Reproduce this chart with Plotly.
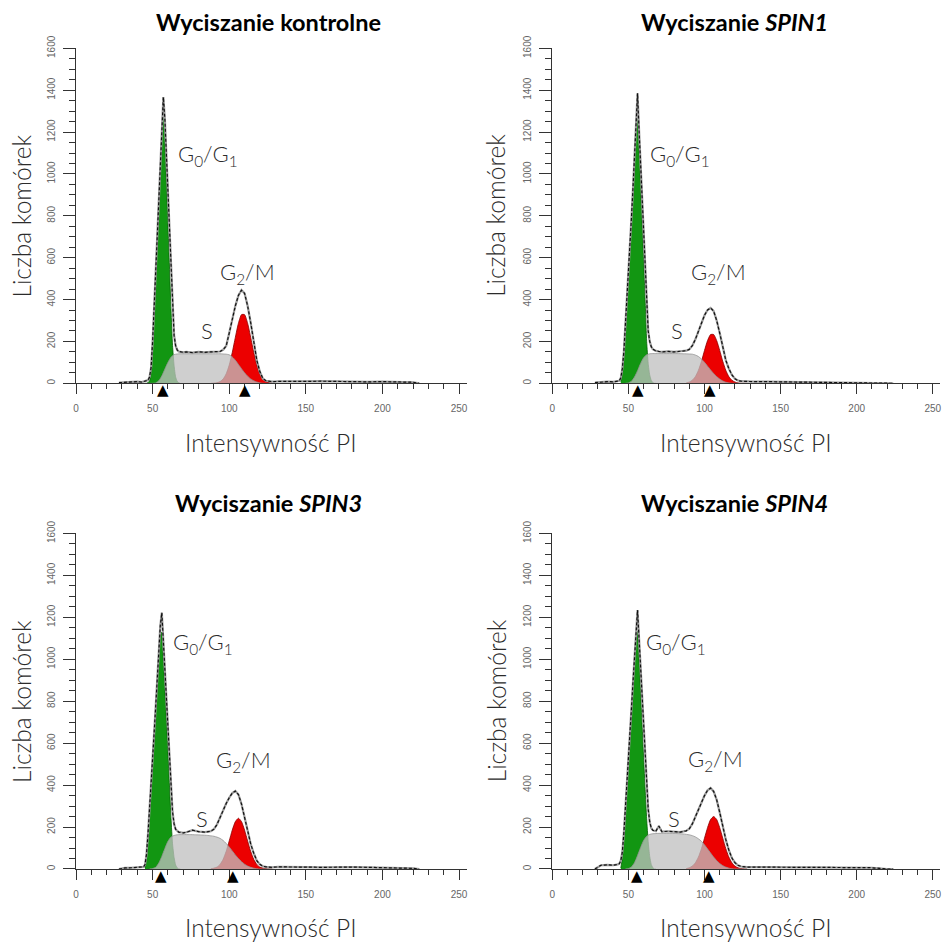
import plotly.graph_objects as go

# ---------------------------------------------------------------------------
# DNA-content histograms (propidium iodide), four siRNA conditions.
# Each panel: measured histogram + fitted G0/G1, S and G2/M components.
# ---------------------------------------------------------------------------

TITLES = [
    "<b>Wyciszanie kontrolne</b>",
    "<b>Wyciszanie <i>SPIN1</i></b>",
    "<b>Wyciszanie <i>SPIN3</i></b>",
    "<b>Wyciszanie <i>SPIN4</i></b>",
]

X_TICKS = [0, 50, 100, 150, 200, 250]
Y_TICKS = [0, 200, 400, 600, 800, 1000, 1200, 1400, 1600]

# channel positions of the fitted components
G1_X = list(range(45, 69))
S_X = [48, 50, 52, 54, 56, 58, 60, 62, 64, 66, 68, 70, 74, 78, 82, 86,
       90, 92, 94, 96, 98, 100, 102, 104, 106, 108, 110, 112, 114, 116, 118,
       120, 122, 124, 126, 128]
G2_X = list(range(88, 129, 2))

# channel positions of the measured histogram
HIST_X = ([28, 32, 36, 40, 43] + list(range(44, 69)) + [70, 72, 76, 80, 84, 88]
          + list(range(90, 129, 2))
          + [132, 140, 150, 160, 170, 180, 190, 200, 210, 220, 224])

# --- control ---------------------------------------------------------------
CTRL_G1 = [0, 0, 3, 12, 60, 190, 350, 520, 690, 860, 1020, 1180, 1290, 1160,
           960, 760, 560, 350, 180, 85, 30, 10, 3, 0]
CTRL_S = [0, 0, 2, 12, 35, 68, 100, 125, 137, 140, 141, 141, 141, 141, 141,
          141, 141, 141, 141, 140, 139, 136, 126, 110, 90, 70, 50, 34, 21, 12,
          6, 2, 0, 0, 0, 0]
CTRL_G2 = [0, 1, 3, 8, 20, 45, 87, 148, 220, 287, 328, 328, 287, 220, 148, 87,
           45, 20, 8, 3, 1]
CTRL_HIST = [3, 5, 4, 8, 6,
             8, 10, 12, 15, 30, 75, 200, 360, 530, 700, 880, 1050, 1230, 1367,
             1260, 1090, 900, 700, 500, 330, 230, 180, 160, 152, 150,
             148, 150, 147, 150, 148, 150,
             150, 151, 152, 160, 178, 240, 310, 370, 420, 445, 430, 370, 290,
             200, 110, 55, 22, 12, 9, 8,
             9, 8, 9, 10, 8, 9, 7, 8, 6, 5, 0]
CTRL_PEAKS = [57.0, 110.3]

# --- SPIN1 -------------------------------------------------------------------
SPIN1_G1 = [8, 50, 130, 250, 380, 510, 640, 770, 900, 1050, 1220, 1290, 1130,
            950, 770, 590, 400, 200, 95, 40, 14, 4, 0, 0]
SPIN1_S = [0, 2, 10, 30, 60, 95, 122, 136, 141, 142, 142, 142, 142, 142, 142,
           141, 140, 139, 135, 128, 116, 100, 82, 64, 47, 32, 20, 11, 5, 2, 0,
           0, 0, 0, 0, 0]
SPIN1_G2 = [2, 6, 15, 32, 62, 105, 157, 204, 233, 233, 204, 157, 105, 62, 32,
            15, 6, 2, 0, 0, 0]
SPIN1_HIST = [3, 6, 8, 7, 10,
              12, 25, 70, 150, 270, 400, 530, 660, 790, 930, 1080, 1300, 1385,
              1210, 1040, 860, 700, 530, 350, 250, 200, 175, 163, 158, 155,
              152, 150, 152, 150, 153, 156,
              162, 180, 210, 250, 290, 325, 350, 360, 345, 300, 240, 170, 110,
              70, 40, 22, 13, 10, 9, 8,
              8, 8, 7, 8, 6, 6, 5, 5, 3, 0, 0]
SPIN1_PEAKS = [56.3, 103.7]

# --- SPIN3 -------------------------------------------------------------------
SPIN3_G1 = [5, 60, 160, 270, 390, 520, 640, 760, 880, 1000, 1110, 1130, 1000,
            860, 710, 560, 400, 240, 120, 55, 20, 6, 0, 0]
SPIN3_S = [0, 2, 8, 28, 60, 98, 132, 152, 160, 163, 164, 164, 164, 163, 162,
           160, 156, 152, 146, 136, 122, 105, 86, 67, 50, 35, 23, 14, 8, 4, 1,
           0, 0, 0, 0, 0]
SPIN3_G2 = [1, 4, 9, 22, 46, 84, 134, 186, 226, 242, 226, 186, 134, 84, 46, 22,
            9, 4, 1, 0, 0]
SPIN3_HIST = [0, 5, 6, 8, 8,
              10, 20, 70, 170, 280, 400, 530, 650, 775, 900, 1030, 1160, 1222,
              1090, 960, 810, 690, 540, 385, 272, 215, 190, 182, 176, 175,
              172, 175, 185, 178, 176, 180,
              190, 212, 245, 285, 312, 340, 362, 372, 355, 310, 250, 180, 120,
              75, 40, 22, 13, 10, 9, 8,
              10, 8, 9, 8, 10, 9, 8, 7, 6, 3, 0]
SPIN3_PEAKS = [55.6, 102.2]

# --- SPIN4 -------------------------------------------------------------------
SPIN4_G1 = [5, 50, 150, 260, 380, 500, 620, 740, 860, 990, 1110, 1135, 1000,
            850, 690, 530, 380, 240, 130, 60, 22, 7, 0, 0]
SPIN4_S = [0, 2, 10, 30, 64, 102, 136, 156, 165, 168, 169, 170, 170, 170, 169,
           167, 163, 159, 153, 144, 132, 115, 96, 76, 57, 40, 26, 16, 9, 4, 1,
           0, 0, 0, 0, 0]
SPIN4_G2 = [2, 6, 14, 30, 57, 97, 147, 197, 236, 250, 236, 197, 147, 97, 57,
            30, 14, 6, 2, 0, 0]
SPIN4_HIST = [0, 18, 20, 18, 22,
              25, 40, 80, 170, 280, 400, 520, 640, 765, 890, 1020, 1165, 1235,
              1100, 960, 810, 670, 520, 390, 285, 225, 195, 185, 182, 180,
              205, 178, 180, 178, 176, 182,
              192, 215, 250, 288, 322, 350, 375, 386, 370, 330, 270, 200, 140,
              90, 52, 30, 18, 12, 10, 9,
              9, 8, 9, 8, 8, 7, 8, 7, 6, 0, 0]
SPIN4_PEAKS = [55.4, 102.9]

PANELS = [
    (CTRL_G1, CTRL_S, CTRL_G2, CTRL_HIST, CTRL_PEAKS),
    (SPIN1_G1, SPIN1_S, SPIN1_G2, SPIN1_HIST, SPIN1_PEAKS),
    (SPIN3_G1, SPIN3_S, SPIN3_G2, SPIN3_HIST, SPIN3_PEAKS),
    (SPIN4_G1, SPIN4_S, SPIN4_G2, SPIN4_HIST, SPIN4_PEAKS),
]

# ---------------------------------------------------------------------------
# layout geometry (paper fractions) and label placement
# ---------------------------------------------------------------------------
X_DOMAINS = [[0.0802, 0.4923], [0.5826, 0.9920]]
Y_DOMAINS = [[0.5931, 0.9487], [0.0775, 0.4337]]
TITLE_X = [268 / 948, 734 / 948]
TITLE_Y = [1 - 22 / 942, 1 - 503 / 942]
XTITLE_Y = [1 - 442 / 942, 1 - 927 / 942]
YTITLE_X = [21.7 / 948, 496 / 948]

LABEL_POS = [
    dict(g1=(65.3, 1089), g2=(92.7, 525), s=(85.3, 253)),
    dict(g1=(62.7, 1089), g2=(89.5, 525), s=(81.9, 253)),
    dict(g1=(62.1, 1076), g2=(89.8, 516), s=(82.2, 241)),
    dict(g1=(60.5, 1076), g2=(88.0, 521), s=(79.8, 242)),
]

AXIS_COLOR = "#333333"
TICK_FONT = dict(family="Liberation Sans, Arial, sans-serif", size=10, color="#666666")
AXIS_TITLE_FONT = dict(family="Lato, sans-serif", size=24.5, color="#2b2b2b", weight=300)
LABEL_FONT = dict(family="Lato, sans-serif", size=22, color="#2b2b2b", weight=300)
TITLE_FONT = dict(family="Lato, sans-serif", size=23.5, color="#000000")

GREEN = "rgb(18,150,18)"
RED = "rgb(236,0,0)"
GREY_FILL = "rgba(192,192,192,0.76)"

fig = go.Figure()
annotations = []

for i, (g1, s, g2, hist, peaks) in enumerate(PANELS):
    row, col = divmod(i, 2)
    n = "" if i == 0 else str(i + 1)
    xa, ya = "x" + n, "y" + n

    fig.add_trace(go.Scatter(x=G1_X, y=g1, xaxis=xa, yaxis=ya, mode="lines",
                             line=dict(color="rgb(0,95,0)", width=0.8, shape="spline", smoothing=0.5),
                             fill="tozeroy", fillcolor=GREEN, hoverinfo="skip"))
    fig.add_trace(go.Scatter(x=G2_X, y=g2, xaxis=xa, yaxis=ya, mode="lines",
                             line=dict(color="rgb(140,0,0)", width=0.8, shape="spline", smoothing=0.6),
                             fill="tozeroy", fillcolor=RED, hoverinfo="skip"))
    fig.add_trace(go.Scatter(x=S_X, y=s, xaxis=xa, yaxis=ya, mode="lines",
                             line=dict(color="rgb(150,150,150)", width=0.8, shape="spline", smoothing=0.6),
                             fill="tozeroy", fillcolor=GREY_FILL, hoverinfo="skip"))
    # measured histogram: light solid trace with the dashed outline on top
    fig.add_trace(go.Scatter(x=HIST_X, y=hist, xaxis=xa, yaxis=ya, mode="lines",
                             line=dict(color="#9c9c9c", width=2.2), hoverinfo="skip"))
    fig.add_trace(go.Scatter(x=HIST_X, y=hist, xaxis=xa, yaxis=ya, mode="lines",
                             line=dict(color="#111111", width=1.2, dash="3px,2px"),
                             hoverinfo="skip"))

    fig.layout["xaxis" + n] = dict(
        domain=X_DOMAINS[col], range=[0, 255], anchor=ya, automargin=False,
        showline=True, linecolor=AXIS_COLOR, linewidth=1.4,
        ticks="outside", ticklen=10, tickwidth=1.2, tickcolor=AXIS_COLOR,
        tickvals=X_TICKS, tickfont=TICK_FONT, ticklabelstandoff=6,
        minor=dict(dtick=10, tick0=0, ticks="outside", ticklen=5, tickwidth=1,
                   tickcolor=AXIS_COLOR, showgrid=False),
        showgrid=False, zeroline=False, fixedrange=True)
    fig.layout["yaxis" + n] = dict(
        domain=Y_DOMAINS[row], range=[0, 1600], anchor=xa, automargin=False,
        showline=True, linecolor=AXIS_COLOR, linewidth=1.4,
        ticks="outside", ticklen=12, tickwidth=1.2, tickcolor=AXIS_COLOR,
        tickvals=Y_TICKS, tickangle=-90, tickfont=TICK_FONT, ticklabelstandoff=4,
        minor=dict(dtick=50, tick0=0, ticks="outside", ticklen=6, tickwidth=1,
                   tickcolor=AXIS_COLOR, showgrid=False),
        showgrid=False, zeroline=False, fixedrange=True)

    # panel title and axis titles
    annotations.append(dict(text=TITLES[i], xref="paper", yref="paper",
                            x=TITLE_X[col], y=TITLE_Y[row], xanchor="center",
                            yanchor="middle", showarrow=False, font=TITLE_FONT))
    annotations.append(dict(text="Intensywność PI", xref="paper", yref="paper",
                            x=sum(X_DOMAINS[col]) / 2, y=XTITLE_Y[row],
                            xanchor="center", yanchor="middle", showarrow=False,
                            font=AXIS_TITLE_FONT))
    annotations.append(dict(text="Liczba komórek", xref="paper", yref="paper",
                            x=YTITLE_X[col], y=sum(Y_DOMAINS[row]) / 2,
                            xanchor="center", yanchor="middle", textangle=-90,
                            showarrow=False, font=AXIS_TITLE_FONT))

    # phase labels
    pos = LABEL_POS[i]
    annotations.append(dict(text="G<sub>0</sub>/G<sub>1</sub>", xref=xa, yref=ya,
                            x=pos["g1"][0], y=pos["g1"][1], xanchor="left",
                            yanchor="middle", showarrow=False, font=LABEL_FONT))
    annotations.append(dict(text="G<sub>2</sub>/M", xref=xa, yref=ya,
                            x=pos["g2"][0], y=pos["g2"][1], xanchor="left",
                            yanchor="middle", showarrow=False, font=LABEL_FONT))
    annotations.append(dict(text="S", xref=xa, yref=ya,
                            x=pos["s"][0], y=pos["s"][1], xanchor="center",
                            yanchor="middle", showarrow=False, font=LABEL_FONT))

    # peak-position markers under the axis
    for p in peaks:
        annotations.append(dict(text="▲", xref=xa, yref=ya, x=p, y=0,
                                xanchor="center", yanchor="top", yshift=4,
                                showarrow=False,
                                font=dict(family="DejaVu Sans", size=15, color="#000000")))

fig.update_layout(width=948, height=942, autosize=False,
                  margin=dict(l=0, r=0, t=0, b=0, autoexpand=False),
                  paper_bgcolor="white", plot_bgcolor="white",
                  showlegend=False, annotations=annotations)

fig.write_html("out.html")
